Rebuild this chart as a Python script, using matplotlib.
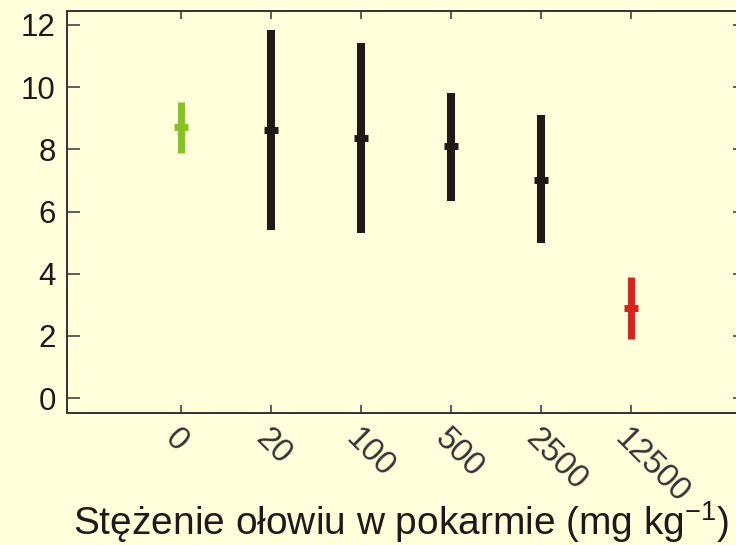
import matplotlib
matplotlib.use('Agg')
import matplotlib.pyplot as plt
import numpy as np

plt.rcParams['font.family'] = ['Liberation Sans', 'DejaVu Sans']
plt.rcParams['mathtext.fontset'] = 'custom'
plt.rcParams['mathtext.rm'] = 'Liberation Sans'
plt.rcParams['mathtext.default'] = 'regular'

# dane
dawki = ['0', '20', '100', '500', '2500', '12500']
srednia = [8.71, 8.62, 8.36, 8.10, 7.01, 2.89]
gora = [9.52, 11.83, 11.41, 9.81, 9.10, 3.89]
dol = [7.88, 5.40, 5.31, 6.33, 4.98, 1.90]
kolory = ['#86c226', '#1e1a18', '#1e1a18', '#1e1a18', '#1e1a18', '#d8231e']
grubosc = [5.0, 5.8, 5.8, 5.8, 5.8, 5.0]

bg = '#ffffdc'
fig = plt.figure(figsize=(7.36, 5.45), dpi=100, facecolor=bg)
ax = fig.add_axes([0.091, 0.2422, 0.9226, 0.7376], facecolor=bg)

x = np.arange(len(dawki))
for i in range(len(dawki)):
    ax.plot([x[i], x[i]], [dol[i], gora[i]], color=kolory[i],
            lw=grubosc[i], solid_capstyle='butt')
    ax.plot(x[i], srednia[i], marker='_', color=kolory[i],
            ms=9.4, mew=5.0)

ax.set_xlim(-1.27, 6.28)
ax.set_ylim(-0.48, 12.45)
ax.set_yticks([0, 2, 4, 6, 8, 10, 12])
ax.set_xticks(x)
ax.set_xticklabels(dawki, rotation=-45, ha='left', va='top',
                   rotation_mode='anchor', fontsize=23.5, color='#1e1a18')
ax.tick_params(axis='y', direction='in', length=9.4, width=1.1,
               labelsize=22.5, pad=8, right=True, colors='#333333',
               labelcolor='#1e1a18')
ax.tick_params(axis='x', direction='in', length=5.5, width=1.1,
               pad=7, top=True, colors='#333333')
for s in ax.spines.values():
    s.set_linewidth(1.4)
    s.set_color('#333333')

fig.text(0.545, 0.018, 'Stężenie ołowiu w pokarmie (mg kg$^{-1}$)',
         ha='center', va='baseline', fontsize=28, color='#1e1a18')

fig.savefig('out.png', dpi=100, facecolor=bg)
